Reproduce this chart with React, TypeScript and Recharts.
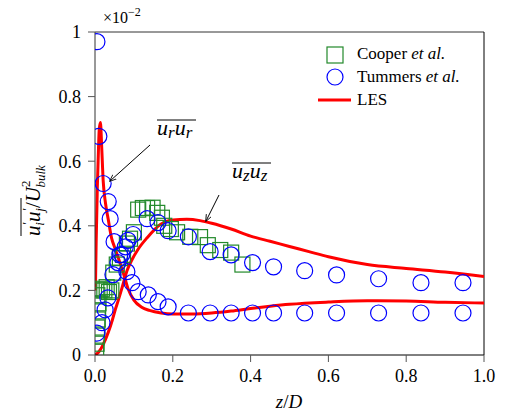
import { ComposedChart, Scatter, Line, XAxis, YAxis, ReferenceLine } from 'recharts'

const FONT = 'Liberation Serif'
const GREEN = '#22892a'
const BLUE = '#0000ff'
const RED = '#ff0000'

const xTicks = [0, 0.2, 0.4, 0.6, 0.8, 1.0]
const yTicks = [0, 0.2, 0.4, 0.6, 0.8, 1]

// Cooper et al. (squares)
const cooper = [
  [0.003, 0.01], [0.004, 0.035], [0.005, 0.06], [0.006, 0.085], [0.007, 0.11], [0.008, 0.135],
  [0.009, 0.16], [0.006, 0.185], [0.012, 0.2], [0.018, 0.205], [0.024, 0.2], [0.03, 0.21],
  [0.036, 0.195], [0.042, 0.2], [0.047, 0.255], [0.056, 0.28], [0.064, 0.3], [0.072, 0.31],
  [0.082, 0.345], [0.09, 0.36], [0.1, 0.38], [0.111, 0.45], [0.123, 0.455], [0.134, 0.455],
  [0.148, 0.456], [0.16, 0.44], [0.172, 0.425], [0.178, 0.4], [0.195, 0.39], [0.211, 0.38],
  [0.245, 0.366], [0.27, 0.365], [0.29, 0.34], [0.322, 0.325], [0.35, 0.317], [0.379, 0.28],
]

// Tummers et al. (circles), u_r u_r and u_z u_z
const tummersUr = [
  [0.005, 0.97], [0.01, 0.677], [0.021, 0.531], [0.034, 0.475], [0.039, 0.422], [0.049, 0.351],
  [0.064, 0.31], [0.082, 0.258], [0.095, 0.224], [0.111, 0.196], [0.137, 0.186], [0.162, 0.165],
  [0.188, 0.149], [0.24, 0.13], [0.296, 0.13], [0.35, 0.13], [0.405, 0.13], [0.459, 0.13],
  [0.539, 0.13], [0.621, 0.13], [0.729, 0.13], [0.838, 0.13], [0.946, 0.13],
]
const tummersUz = [
  [0.005, 0.068], [0.018, 0.1], [0.026, 0.14], [0.033, 0.177], [0.046, 0.249], [0.059, 0.286],
  [0.069, 0.311], [0.078, 0.335], [0.085, 0.355], [0.098, 0.373], [0.134, 0.422], [0.162, 0.41],
  [0.188, 0.385], [0.24, 0.366], [0.296, 0.32], [0.35, 0.31], [0.405, 0.286], [0.459, 0.273],
  [0.539, 0.261], [0.621, 0.248], [0.729, 0.236], [0.838, 0.224], [0.946, 0.224],
]

// LES curves
const lesUr = [
  [0.001, 0.2], [0.003, 0.35], [0.006, 0.52], [0.009, 0.64], [0.011, 0.7], [0.014, 0.72],
  [0.017, 0.65], [0.021, 0.54], [0.027, 0.47], [0.034, 0.42], [0.043, 0.36], [0.05, 0.335],
  [0.064, 0.286], [0.075, 0.245], [0.085, 0.205], [0.1, 0.17], [0.12, 0.148], [0.14, 0.138],
  [0.17, 0.13], [0.2, 0.127], [0.25, 0.127], [0.3, 0.13], [0.35, 0.136], [0.4, 0.144],
  [0.45, 0.151], [0.5, 0.157], [0.6, 0.164], [0.7, 0.168], [0.8, 0.167], [0.9, 0.163], [1.0, 0.161],
]
const lesUz = [
  [0, 0], [0.01, 0.01], [0.02, 0.03], [0.034, 0.07], [0.045, 0.11], [0.052, 0.14], [0.06, 0.17],
  [0.07, 0.21], [0.082, 0.26], [0.095, 0.295], [0.11, 0.326], [0.134, 0.363], [0.168, 0.404],
  [0.2, 0.418], [0.236, 0.42], [0.27, 0.416], [0.3, 0.408], [0.35, 0.39], [0.4, 0.368],
  [0.45, 0.352], [0.5, 0.336], [0.55, 0.32], [0.6, 0.304], [0.7, 0.28], [0.8, 0.268],
  [0.9, 0.257], [1.0, 0.243],
]

const pts = (a: number[][]) => a.map(([x, y]) => ({ x, y }))

const SquareMark = (p: any) => (
  <rect x={p.cx - 7.5} y={p.cy - 7.5} width={15} height={15} fill="none" stroke={GREEN} strokeWidth={1.2} />
)
const CircleMark = (p: any) => (
  <circle cx={p.cx} cy={p.cy} r={8} fill="none" stroke={BLUE} strokeWidth={1.2} />
)

const tickStyle = { fontSize: 18, fill: '#000', fontFamily: FONT }

function Overlay() {
  return (
    <svg width={506} height={415} style={{ position: 'absolute', left: 0, top: 0, pointerEvents: 'none', fontFamily: FONT }}>
      <defs>
        <marker id="ah" viewBox="0 0 10 10" refX="9" refY="5" markerWidth="7" markerHeight="7" orient="auto">
          <path d="M0,1 L10,5 L0,9" fill="none" stroke="#000" strokeWidth={1.2} />
        </marker>
      </defs>
      {/* x10^-2 */}
      <text x={103} y={23} fontSize={16} fontFamily={FONT}>×10<tspan dy={-7} fontSize={12}>−2</tspan></text>

      {/* y label */}
      <g transform="translate(40,190) rotate(-90)">
        <line x1={-46} x2={-8} y1={-19} y2={-19} stroke="#000" strokeWidth={1} />
        <text x={-46} y={0} fontSize={21} fontStyle="italic" fontFamily={FONT}>
          u<tspan dy={-9} fontSize={13}>′</tspan><tspan dx={-3} dy={13} fontSize={13}>i</tspan>
          <tspan dy={-4}>u</tspan><tspan dy={-9} fontSize={13}>′</tspan><tspan dx={-3} dy={13} fontSize={13}>j</tspan>
          <tspan dy={-4} fontStyle="normal">/</tspan>
          <tspan>U</tspan><tspan dy={-10} fontSize={13} fontStyle="normal">2</tspan>
          <tspan dx={-7} dy={15} fontSize={13}>bulk</tspan>
        </text>
      </g>

      {/* x label */}
      <text x={289} y={408} fontSize={19} textAnchor="middle" fontFamily={FONT}>
        <tspan fontStyle="italic">z</tspan>/<tspan fontStyle="italic">D</tspan>
      </text>

      {/* legend */}
      <rect x={327} y={47} width={16} height={16} fill="none" stroke={GREEN} strokeWidth={1.2} />
      <text x={357} y={59} fontSize={17} fontFamily={FONT}>Cooper <tspan fontStyle="italic">et al.</tspan></text>
      <circle cx={335} cy={77} r={8} fill="none" stroke={BLUE} strokeWidth={1.2} />
      <text x={357} y={82} fontSize={17} fontFamily={FONT}>Tummers <tspan fontStyle="italic">et al.</tspan></text>
      <line x1={318} x2={351} y1={100} y2={100} stroke={RED} strokeWidth={3} />
      <text x={357} y={105} fontSize={17} fontFamily={FONT}>LES</text>

      {/* annotations */}
      <line x1={157} x2={196} y1={120} y2={120} stroke="#000" strokeWidth={1} />
      <text x={157} y={135} fontSize={22} fontStyle="italic" fontFamily={FONT}>
        u<tspan dy={3} fontSize={17}>r</tspan><tspan dy={-3}>u</tspan><tspan dy={3} fontSize={17}>r</tspan>
      </text>
      <line x1={150} y1={145} x2={110} y2={181} stroke="#000" strokeWidth={1} markerEnd="url(#ah)" />

      <line x1={232} x2={271} y1={163} y2={163} stroke="#000" strokeWidth={1} />
      <text x={232} y={178} fontSize={22} fontStyle="italic" fontFamily={FONT}>
        u<tspan dy={3} fontSize={17}>z</tspan><tspan dy={-3}>u</tspan><tspan dy={3} fontSize={17}>z</tspan>
      </text>
      <line x1={219} y1={195} x2={206} y2={221} stroke="#000" strokeWidth={1} markerEnd="url(#ah)" />
    </svg>
  )
}

export default function App() {
  return (
    <div style={{ position: 'absolute', left: 0, top: 0, width: 506, height: 415, background: '#fff', fontFamily: FONT }}>
      <ComposedChart width={506} height={415} margin={{ top: 32, right: 22, bottom: 0, left: 0 }}>
        <XAxis dataKey="x" type="number" domain={[0, 1]} ticks={xTicks} tickFormatter={(v: number) => v.toFixed(1)}
          height={60} tickSize={7} tickMargin={7} tick={tickStyle} stroke="#000" axisLine={{ stroke: '#000' }}
          tickLine={{ stroke: '#555' }} allowDataOverflow />
        <YAxis dataKey="y" type="number" domain={[0, 1]} ticks={yTicks}
          tickFormatter={(v: number) => (v === 0 ? '0' : v === 1 ? '1' : v.toFixed(1))}
          width={95} tickSize={7} tickMargin={7} tick={tickStyle} axisLine={{ stroke: '#333' }}
          tickLine={{ stroke: '#555' }} allowDataOverflow />
        <ReferenceLine y={1} stroke="#333" />
        <ReferenceLine x={1} stroke="#000" />
        <Scatter data={pts(cooper)} shape={SquareMark} isAnimationActive={false} />
        <Scatter data={pts(tummersUr)} shape={CircleMark} isAnimationActive={false} />
        <Scatter data={pts(tummersUz)} shape={CircleMark} isAnimationActive={false} />
        <Line data={pts(lesUr)} dataKey="y" type="monotone" stroke={RED} strokeWidth={3} dot={false}
          activeDot={false} isAnimationActive={false} />
        <Line data={pts(lesUz)} dataKey="y" type="monotone" stroke={RED} strokeWidth={3} dot={false}
          activeDot={false} isAnimationActive={false} />
      </ComposedChart>
      <Overlay />
    </div>
  )
}
